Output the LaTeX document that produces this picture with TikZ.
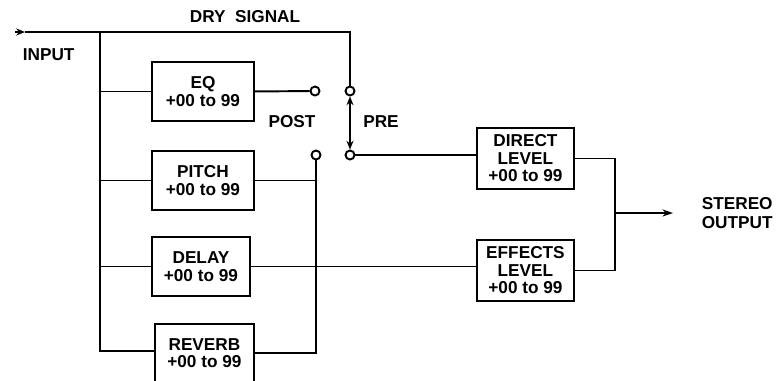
\documentclass[tikz,border=0pt]{standalone}
\usepackage{fontspec}
\setmainfont{Liberation Sans}
\usetikzlibrary{arrows.meta,positioning,calc}

\begin{document}
\begin{tikzpicture}[x=0.02cm, y=-0.02cm, line width=1.1pt,
    blk/.style={draw, line width=1.1pt, anchor=north west, align=center, inner sep=1pt,
        minimum width=2.04cm, minimum height=1.18cm, font=\bfseries\fontsize{9.8}{10}\selectfont},
    lbl/.style={font=\bfseries\fontsize{9.8}{11}\selectfont, align=left},
    term/.style={circle, draw, line width=1.1pt, fill=white, inner sep=0pt, minimum size=0.18cm}]
\useasboundingbox (0,0) rectangle (781,380);

% effect blocks
\node[blk] (eq) at (151,61) {EQ\\+00 to 99};
\node[blk] (pitch) at (151,150) {PITCH\\+00 to 99};
\node[blk, minimum width=1.96cm] (delay) at (151,236) {DELAY\\+00 to 99};
\node[blk, minimum width=1.98cm, minimum height=1.16cm] (reverb) at (154,323) {REVERB\\+00 to 99};
\node[blk, minimum width=1.94cm, minimum height=1.22cm] (direct) at (476,127) {DIRECT\\LEVEL\\+00 to 99};
\node[blk, minimum width=1.94cm, minimum height=1.22cm] (effects) at (476,239) {EFFECTS\\LEVEL\\+00 to 99};

% switch terminals
\node[term] (eqo) at (315,91) {};
\node[term] (pitcho) at (316,155) {};
\node[term] (prea) at (350,91) {};
\node[term] (preb) at (350,155) {};

% labels
\node[lbl] (dry) at (245,17) {DRY\ \ SIGNAL};
\node[lbl, anchor=west] (inlbl) at (16,55) {INPUT};
\node[lbl] (post) at (292,122) {POST};
\node[lbl] (pre) at (381,122) {PRE};
\node[lbl, anchor=west] (outlbl) at (695,213) {STEREO\\OUTPUT};

\coordinate (in) at (15,32);
\coordinate (inarr) at (25,32);
\coordinate (bustop) at (100,32);
\coordinate (busbot) at (100,351);
\coordinate (join) at (615,213);
\coordinate (out) at (673,213);

% connectors
\draw[-{Stealth[length=5pt,width=4pt]}] (in) -- (inarr);
\draw (inarr) -| (prea);
\draw (bustop) -- (busbot) -- (busbot -| reverb.west);
\draw (bustop |- eq.west) -- (eq.west);
\draw (bustop |- pitch.west) -- (pitch.west);
\draw (bustop |- delay.west) -- (delay.west);
\draw (eq.east) -- (eqo);
\draw (pitch.east) -- (pitch.east -| pitcho);
\draw (pitcho) -- (pitcho |- reverb.east) -- (reverb.east);
\draw (delay.east) -- (delay.east -| effects.west);
\draw[{Stealth[length=5pt,width=4pt]}-{Stealth[length=5pt,width=4pt]}] (prea) -- (preb);
\draw (preb) -- (preb -| direct.west);
\draw (direct.east) -| (join);
\draw (effects.east) -| (join);
\draw[-{Stealth[length=6pt,width=4pt]}] (join) -- (out);
\end{tikzpicture}
\end{document}
